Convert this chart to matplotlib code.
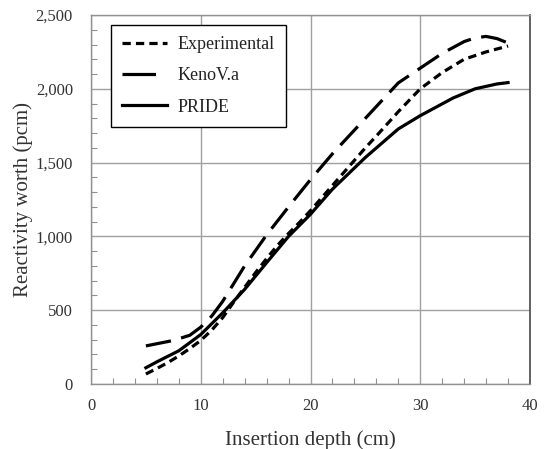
import matplotlib
matplotlib.use("Agg")
import matplotlib.pyplot as plt
from matplotlib.lines import Line2D
from matplotlib.ticker import MultipleLocator, FuncFormatter

plt.rcParams['font.family'] = ['Liberation Serif', 'DejaVu Serif']

# Data (insertion depth in cm, reactivity worth in pcm)
exp_x = [5, 6, 7, 8, 9, 10, 11, 12, 13, 14, 15, 16, 17, 18, 19, 20, 22, 24, 25, 26, 28, 30, 32, 34, 36, 37, 38]
exp_y = [68, 105, 145, 190, 240, 295, 365, 450, 555, 655, 755, 850, 940, 1020, 1095, 1175, 1345, 1515, 1600, 1680, 1845, 2000, 2110, 2200, 2250, 2270, 2290]

keno_x = [5, 7.5, 9, 10, 11, 12, 13, 14, 15, 16, 18, 20, 22, 24, 26, 28, 30, 32, 34, 35, 36, 37, 38]
keno_y = [258, 295, 330, 385, 460, 560, 680, 800, 905, 1010, 1200, 1385, 1560, 1720, 1880, 2040, 2140, 2240, 2320, 2345, 2355, 2340, 2310]

pride_x = [5, 6, 8, 10, 12, 14, 16, 18, 20, 22, 25, 28, 30, 33, 35, 37, 38]
pride_y = [110, 150, 225, 335, 482, 641, 822, 1000, 1150, 1320, 1535, 1728, 1818, 1938, 2000, 2033, 2042]

labels = ['Experimental', 'KenoV.a', 'PRIDE']
x_ticks = [0, 10, 20, 30, 40]
y_ticks = [0, 500, 1000, 1500, 2000, 2500]

fig = plt.figure(figsize=(5.44, 4.49), dpi=100)
ax = fig.add_axes([91/544, 1-384/449, (530-91)/544, (384-15)/449])

lw = 2.3
exp_dash = (2.6, 1.6)
keno_dash = (8, 3.3)
ax.plot(exp_x, exp_y, color='black', lw=lw, dashes=exp_dash)
ax.plot(keno_x, keno_y, color='black', lw=lw, dashes=keno_dash)
ax.plot(pride_x, pride_y, color='black', lw=lw)

ax.set_xlim(0, 40)
ax.set_ylim(0, 2500)
ax.set_xticks(x_ticks)
ax.set_yticks(y_ticks)
ax.xaxis.set_minor_locator(MultipleLocator(2))
ax.yaxis.set_minor_locator(MultipleLocator(100))
ax.yaxis.set_major_formatter(FuncFormatter(lambda v, p: f"{int(v):,}"))

ax.grid(True, which='major', color='#a0a0a0', lw=1.0)
ax.set_axisbelow(True)
ax.tick_params(which='major', length=0, labelsize=12, colors='#333333')
ax.tick_params(axis='y', which='major', pad=13)
ax.tick_params(axis='x', which='major', pad=10)
ax.tick_params(which='minor', direction='in', length=4, color='#909090', width=0.8)

for s in ['top', 'left', 'bottom']:
    ax.spines[s].set_color('#909090')
    ax.spines[s].set_linewidth(1.0)
ax.spines['right'].set_color('#555555')
ax.spines['right'].set_linewidth(1.3)

ax.set_xlabel('Insertion depth (cm)', fontsize=15, color='#333333', labelpad=12)
ax.set_ylabel('Reactivity worth (pcm)', fontsize=15, color='#333333', labelpad=2)

handles = [
    Line2D([], [], color='black', lw=lw, dashes=exp_dash),
    Line2D([], [], color='black', lw=lw, dashes=(10.5, 6)),
    Line2D([], [], color='black', lw=lw),
]
leg = ax.legend(handles, labels, loc='upper left', bbox_to_anchor=(20/439, 1-10/369), fancybox=False,
                edgecolor='black', framealpha=1, fontsize=13, handlelength=2.5,
                labelspacing=0.8, borderpad=0.6, handletextpad=0.6, borderaxespad=0)
leg.get_frame().set_linewidth(1.0)
for t in leg.get_texts():
    t.set_color('#222222')

fig.savefig('out.png', dpi=100)
